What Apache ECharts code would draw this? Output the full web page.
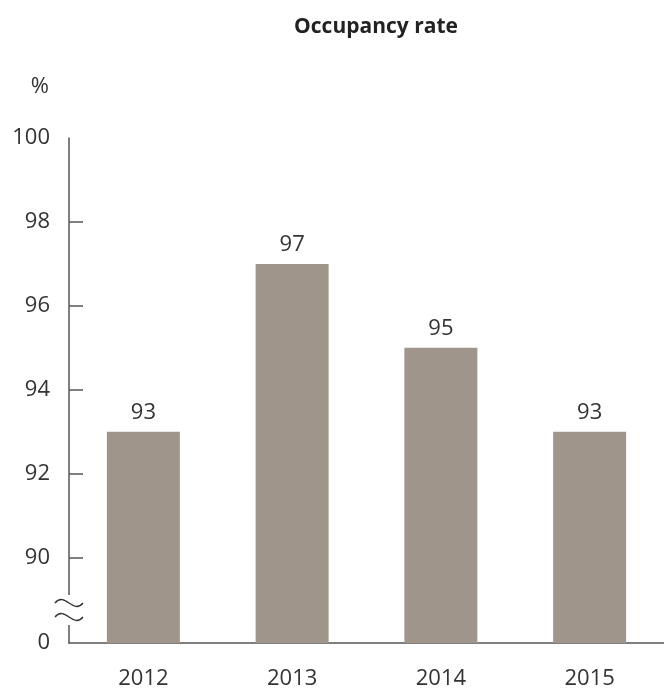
<!DOCTYPE html>
<html>
<head>
<meta charset="utf-8">
<script src="https://cdn.jsdelivr.net/npm/echarts@6/dist/echarts.min.js"></script>
<style>
  html, body { margin: 0; padding: 0; background: #fff; }
  #chart { width: 664px; height: 691px; }
</style>
</head>
<body>
<div id="chart"></div>
<script>
const years = ['2012', '2013', '2014', '2015'];
const occupancy = [93, 97, 95, 93];
const yLabels = [0, 90, 92, 94, 96, 98, 100];
const yTicks = [90, 92, 94, 96, 98];

const chart = echarts.init(document.getElementById('chart'), null, { renderer: 'canvas' });
const font = '"Open Sans", "Noto Sans", sans-serif';
const axisCol = '#555';

// little wavy "break" mark on the y axis
function wave(cy) {
	return {
		type: 'bezierCurve',
		shape: { x1: 55, y1: cy, cpx1: 65, cpy1: cy - 12, cpx2: 73, cpy2: cy + 12, x2: 83, y2: cy },
		style: { stroke: '#333', lineWidth: 1.4, fill: null },
		z: 101
	};
}

const option = {
	animation: false,
	title: {
		text: 'Occupancy rate',
		left: 371,
		top: 12,
		textAlign: 'center',
		textStyle: { fontFamily: font, fontSize: 21, fontWeight: 'bold', color: '#222' }
	},
	grid: { left: 69, top: 138, width: 600, height: 505 },
	xAxis: {
		type: 'category',
		data: years,
		axisLine: { lineStyle: { color: axisCol, width: 1.5 } },
		axisTick: { inside: true, length: 12, lineStyle: { color: axisCol, width: 1.5 } },
		axisLabel: { fontFamily: font, fontSize: 22, color: '#333', margin: 25 }
	},
	yAxis: {
		type: 'value',
		min: 0,
		max: 100,
		breaks: [{ start: 0.55, end: 89, gap: '4%' }],
		breakArea: { show: false },
		name: '%',
		nameLocation: 'end',
		nameGap: 40,
		nameTextStyle: { fontFamily: font, fontSize: 22, color: '#333', align: 'right', padding: [0, 20, 0, 0] },
		axisLine: { show: true, lineStyle: { color: axisCol, width: 1.5 } },
		axisTick: { show: true, inside: true, length: 14, customValues: yTicks, lineStyle: { color: axisCol, width: 1.5 } },
		axisLabel: { fontFamily: font, fontSize: 22, color: '#333', margin: 19, customValues: yLabels },
		splitLine: { show: false }
	},
	series: [{
		type: 'bar',
		data: occupancy,
		barWidth: 73,
		itemStyle: { color: '#a0958a' },
		label: {
			show: true,
			position: 'top',
			distance: 8,
			fontFamily: font,
			fontSize: 22,
			color: '#333'
		}
	}],
	graphic: [
		{ type: 'rect', shape: { x: 62, y: 595, width: 14, height: 30 }, style: { fill: '#fff' }, z: 100 },
		wave(603),
		wave(617)
	]
};

chart.setOption(option);
</script>
</body>
</html>
